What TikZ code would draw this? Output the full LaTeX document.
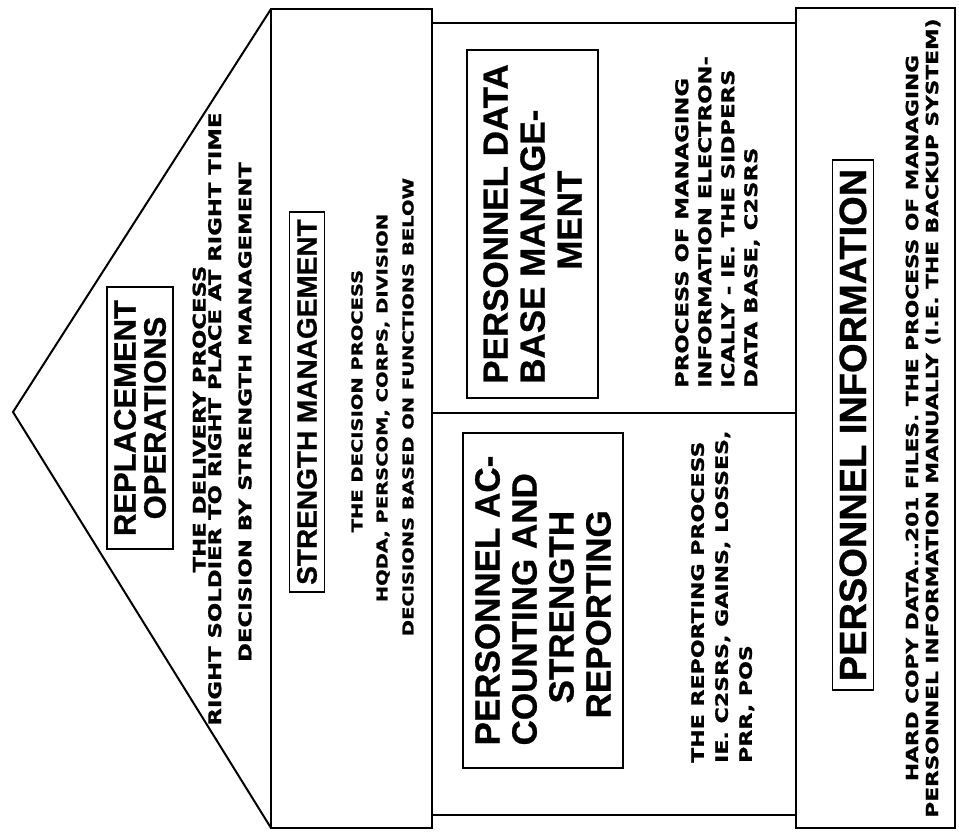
\documentclass[tikz,border=0pt]{standalone}
\usepackage{fontspec}
\newfontfamily\headfont{Liberation Sans}[BoldFont={Liberation Sans Bold}, BoldFeatures={FakeBold=0.8}]
\newfontfamily\notefont{DejaVu Sans}[FakeStretch=1.3, BoldFont={DejaVu Sans Bold}, BoldFeatures={FakeBold=1.2}]
\newcommand\hfs[2]{\headfont\bfseries\fontsize{#1}{#2}\selectfont}
\newcommand\nfs[2]{\notefont\bfseries\fontsize{#1}{#2}\selectfont}
\begin{document}
\begin{tikzpicture}[x=1pt,y=-1pt,
  frame/.style={line width=2pt, line join=miter},
  titlebox/.style={draw, line width=1.6pt, rotate=90, inner sep=0pt},
  note/.style={rotate=90, inner sep=0pt},
]
\useasboundingbox (0,0) rectangle (959,836);

% house outline: roof, strength floor, middle floor, foundation
\draw[frame] (271,9) -- (13,412) -- (271,828);
\draw[frame] (271,9) rectangle (432,828);
\draw[frame] (432,23) rectangle (796,815);
\draw[frame] (432,413) -- (796,413);
\draw[frame] (796,8) rectangle (955,828);

% roof
\node[titlebox, minimum width=262pt, minimum height=66pt, align=center, font=\hfs{31}{30}]
  (ro) at (140,418) {REPLACEMENT\\OPERATIONS};
\node[note, align=center, font=\nfs{17.5}{15.5}] (roa) at (207,419)
  {THE DELIVERY PROCESS\\RIGHT SOLDIER TO RIGHT PLACE AT RIGHT TIME};
\node[note, font=\nfs{17.5}{15.5}] (rob) at (245,412) {DECISION BY STRENGTH MANAGEMENT};

% strength management
\node[titlebox, minimum width=380pt, minimum height=35pt, font=\hfs{28}{30}]
  (sm) at (307,402) {STRENGTH MANAGEMENT};
\node[note, font=\nfs{15}{16}] (sma) at (357,401) {THE DECISION PROCESS};
\node[note, font=\nfs{15}{16}] (smb) at (383,408) {HQDA, PERSCOM, CORPS, DIVISION};
\node[note, font=\nfs{15}{16}] (smc) at (408,407) {DECISIONS BASED ON FUNCTIONS BELOW};

% personnel data base management
\node[titlebox, minimum width=348pt, minimum height=131pt, align=left, font=\hfs{35}{37}]
  (pdbm) at (532.5,224) {PERSONNEL DATA\\BASE MANAGE-\\\hspace*{114pt}MENT};
\node[note, align=left, anchor=north west, font=\nfs{17.5}{23}] (pdbmn) at (675,388)
  {PROCESS OF MANAGING\\INFORMATION ELECTRON-\\ICALLY - IE. THE SIDPERS\\DATA BASE, C2SRS};

% personnel accounting and strength reporting
\node[titlebox, minimum width=335pt, minimum height=160pt, align=left, font=\hfs{35}{37}]
  (pac) at (543,600.5) {PERSONNEL AC-\\COUNTING AND\\\hspace*{42pt}STRENGTH\\\hspace*{27pt}REPORTING};
\node[note, align=left, anchor=north west, font=\nfs{17}{24}] (pacn) at (691,763)
  {THE REPORTING PROCESS\\IE. C2SRS, GAINS, LOSSES,\\PRR, POS};

% personnel information
\node[titlebox, minimum width=530pt, minimum height=41pt, font=\hfs{38}{40}]
  (pi) at (853,425) {PERSONNEL INFORMATION};
\node[note, align=center, font=\nfs{16.7}{20}] (pin) at (923,418)
  {HARD COPY DATA...201 FILES. THE PROCESS OF MANAGING\\PERSONNEL INFORMATION MANUALLY (I.E. THE BACKUP SYSTEM)};
\end{tikzpicture}
\end{document}
